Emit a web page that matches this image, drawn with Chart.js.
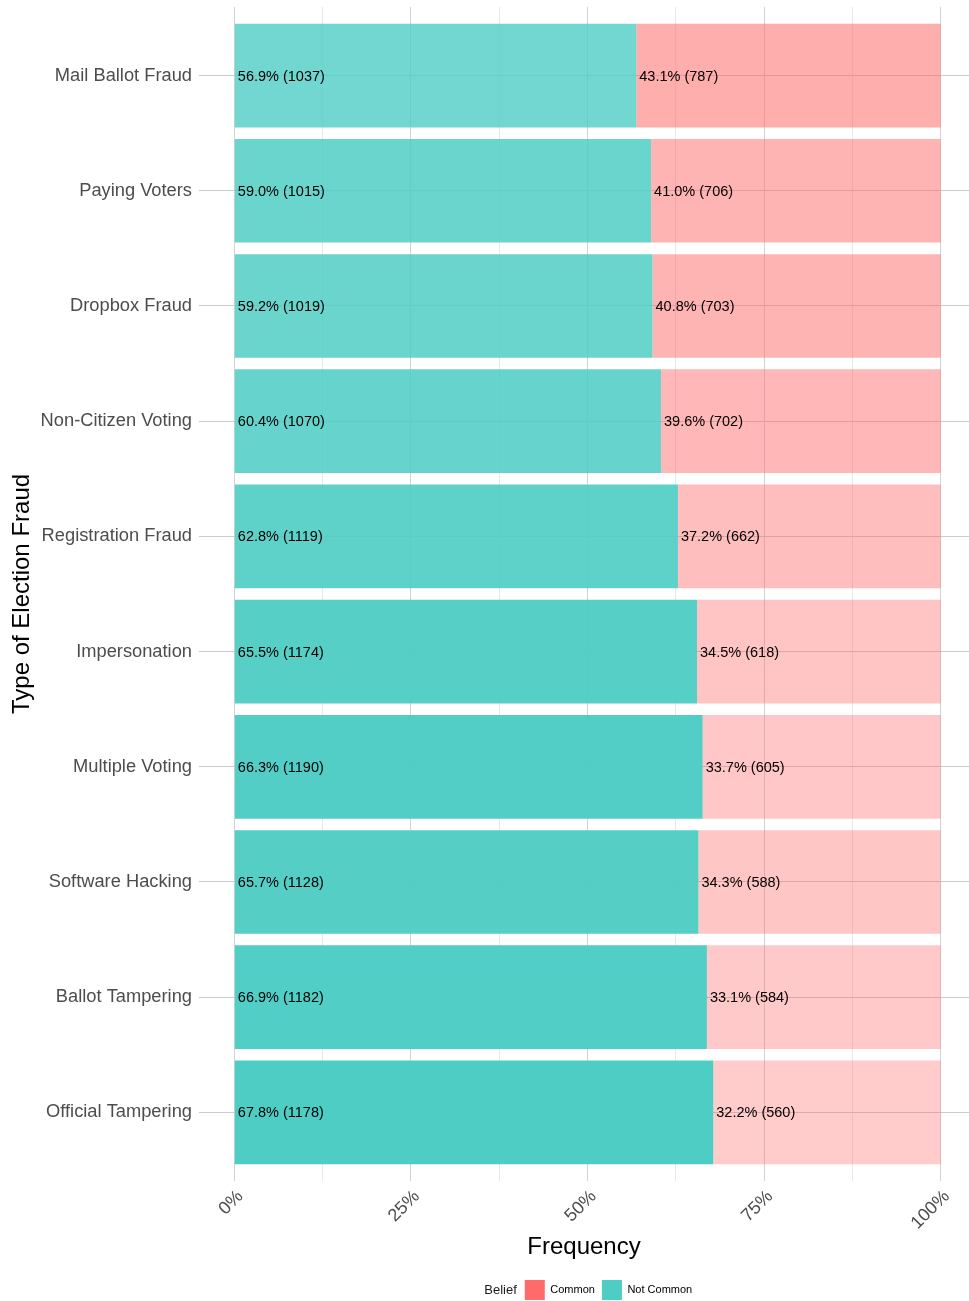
<!DOCTYPE html>
<html>
<head>
<meta charset="utf-8">
<script src="https://cdn.jsdelivr.net/npm/chart.js@4.4.1/dist/chart.umd.min.js"></script>
<style>
html, body { margin: 0; padding: 0; background: #fff; }
</style>
</head>
<body>
<canvas id="fraudChart" width="969" height="1301"></canvas>
<script>
// Tipos de fraude (de cima para baixo)
const categories = ['Mail Ballot Fraud', 'Paying Voters', 'Dropbox Fraud', 'Non-Citizen Voting',
    'Registration Fraud', 'Impersonation', 'Multiple Voting', 'Software Hacking',
    'Ballot Tampering', 'Official Tampering'];
const notCommonPct = [56.9, 59.0, 59.2, 60.4, 62.8, 65.5, 66.3, 65.7, 66.9, 67.8];
const notCommonCount = [1037, 1015, 1019, 1070, 1119, 1174, 1190, 1128, 1182, 1178];
const commonPct = [43.1, 41.0, 40.8, 39.6, 37.2, 34.5, 33.7, 34.3, 33.1, 32.2];
const commonCount = [787, 706, 703, 702, 662, 618, 605, 588, 584, 560];
const xTicks = [0, 12.5, 25, 37.5, 50, 62.5, 75, 87.5, 100];

const FONT = "'Liberation Sans', Arial, Helvetica, sans-serif";
Chart.defaults.font.family = FONT;

// alpha segue a percentagem (como scale_alpha do ggplot)
const allPct = notCommonPct.concat(commonPct);
const pMin = Math.min(...allPct), pMax = Math.max(...allPct);
const alphaOf = p => 0.35 + 0.65 * (p - pMin) / (pMax - pMin);

const teal = [78, 205, 196];
const red = [255, 107, 107];
const rgba = (c, a) => `rgba(${c[0]}, ${c[1]}, ${c[2]}, ${a.toFixed(3)})`;

const gridColor = ctx => {
    const v = ctx.tick ? ctx.tick.value : 0;
    return v % 25 === 0 ? '#d2d2d2' : '#e8e8e8';
};

// rótulos dentro das barras
const barLabels = {
    id: 'barLabels',
    afterDatasetsDraw(chart) {
        const ctx = chart.ctx;
        ctx.save();
        ctx.font = '14.5px ' + FONT;
        ctx.fillStyle = '#000';
        ctx.textAlign = 'left';
        ctx.textBaseline = 'middle';
        chart.data.datasets.forEach((ds, i) => {
            chart.getDatasetMeta(i).data.forEach((bar, j) => {
                const left = Math.min(bar.x, bar.base);
                const txt = ds.pct[j].toFixed(1) + '% (' + ds.counts[j] + ')';
                ctx.fillText(txt, left + 3, bar.y + 1);
            });
        });
        ctx.restore();
    }
};

// legenda centrada no painel, com título "Belief" à esquerda
const legendShift = {
    id: 'legendShift',
    afterLayout(chart) {
        const lg = chart.legend;
        lg.left += 124;
        lg.right += 124;
        lg.top += 9;
        lg.bottom += 9;
    },
    afterDraw(chart) {
        const box = chart.legend.legendHitBoxes[0];
        if (!box) return;
        const ctx = chart.ctx;
        ctx.save();
        ctx.font = '13px ' + FONT;
        ctx.fillStyle = '#1a1a1a';
        ctx.textAlign = 'right';
        ctx.textBaseline = 'middle';
        ctx.fillText('Belief', box.left - 8, box.top + 10);
        ctx.restore();
    }
};

const config = {
    type: 'bar',
    data: {
        labels: categories,
        datasets: [{
            label: 'Not Common',
            data: notCommonPct,
            pct: notCommonPct,
            counts: notCommonCount,
            backgroundColor: notCommonPct.map(p => rgba(teal, alphaOf(p))),
            borderWidth: 0,
            barPercentage: 0.9,
            categoryPercentage: 1
        }, {
            label: 'Common',
            data: commonPct,
            pct: commonPct,
            counts: commonCount,
            backgroundColor: commonPct.map(p => rgba(red, alphaOf(p))),
            borderWidth: 0,
            barPercentage: 0.9,
            categoryPercentage: 1
        }]
    },
    options: {
        indexAxis: 'y',
        responsive: false,
        animation: false,
        layout: { padding: 0 },
        scales: {
            x: {
                stacked: true,
                min: -5,
                max: 104,
                afterBuildTicks: s => { s.ticks = xTicks.map(v => ({ value: v })); },
                afterFit: s => { s.height = 94; },
                border: { display: false },
                grid: { color: gridColor, lineWidth: 1, drawTicks: true, tickLength: 11 },
                ticks: {
                    autoSkip: false,
                    minRotation: 45,
                    maxRotation: 45,
                    padding: 5,
                    labelOffset: 6,
                    color: '#4d4d4d',
                    font: { size: 18 },
                    callback: v => (v % 25 === 0 ? v + '%' : '')
                },
                title: {
                    display: true,
                    text: 'Frequency',
                    color: '#000',
                    font: { size: 24 },
                    padding: { top: 0, bottom: 2 }
                }
            },
            xTop: {
                type: 'linear',
                position: 'top',
                min: -5,
                max: 104,
                afterBuildTicks: s => { s.ticks = xTicks.map(v => ({ value: v })); },
                afterFit: s => { s.height = 16; },
                border: { display: false },
                grid: { color: gridColor, drawOnChartArea: false, drawTicks: true, tickLength: 11 },
                ticks: { display: false }
            },
            y: {
                stacked: true,
                afterFit: s => { s.width = 199; },
                border: { display: false },
                grid: { offset: false, color: '#cbcbcb', lineWidth: 1, drawTicks: false },
                ticks: { color: '#4d4d4d', font: { size: 18.3 }, padding: 7 },
                title: {
                    display: true,
                    text: 'Type of Election Fraud',
                    color: '#000',
                    font: { size: 24 },
                    padding: { top: 8, bottom: 0 }
                }
            }
        },
        plugins: {
            tooltip: { enabled: false },
            legend: {
                position: 'bottom',
                reverse: true,
                labels: {
                    boxWidth: 20,
                    boxHeight: 20,
                    padding: 7,
                    color: '#1a1a1a',
                    font: { size: 11 },
                    generateLabels: chart => chart.data.datasets.map((ds, i) => ({
                        text: ds.label,
                        fillStyle: i === 0 ? rgba(teal, 1) : rgba(red, 1),
                        strokeStyle: 'rgba(0,0,0,0)',
                        lineWidth: 0,
                        hidden: false,
                        datasetIndex: i
                    }))
                }
            }
        }
    },
    plugins: [barLabels, legendShift]
};

const fraudChart = new Chart(document.getElementById('fraudChart').getContext('2d'), config);
</script>
</body>
</html>
